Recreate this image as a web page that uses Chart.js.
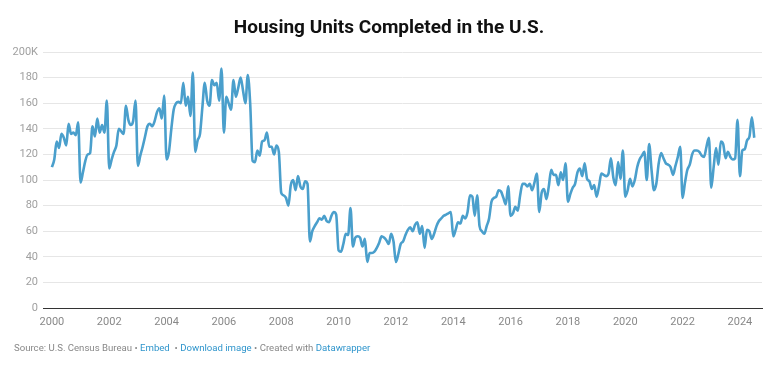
<!DOCTYPE html>
<html>
<head>
<meta charset="utf-8">
<script src="https://cdn.jsdelivr.net/npm/chart.js@4.4.1/dist/chart.umd.min.js"></script>
<style>
  body { margin: 0; background: #fff; font-family: Roboto, sans-serif; }
  #wrap { position: relative; width: 780px; height: 390px; }
  #title { position: absolute; top: 15px; left: 0; width: 778px; text-align: center; font-weight: 700; font-size: 19px; color: #111; }
  #foot { position: absolute; top: 342px; left: 14px; font-size: 9.6px; color: #888; white-space: nowrap; }
  #foot a { color: #2f95cc; text-decoration: none; }
  canvas { position: absolute; left: 0; top: 0; }
</style>
</head>
<body>
<div id="wrap">
  <canvas id="chart" width="780" height="390"></canvas>
  <div id="title">Housing Units Completed in the U.S.</div>
  <div id="foot">Source: U.S. Census Bureau • <a>Embed</a> &nbsp;• <a>Download image</a> • Created with <a>Datawrapper</a></div>
</div>
<script>
// Logements achevés par mois (milliers), janvier à décembre
const y2000 = [110, 116, 130, 125, 136, 133, 127, 144, 136, 137, 135, 145];
const y2001 = [98, 106, 115, 120, 121, 142, 134, 148, 137, 143, 137, 162];
const y2002 = [109, 116, 122, 127, 140, 138, 136, 158, 147, 143, 146, 162];
const y2003 = [111, 119, 126, 134, 142, 144, 142, 146, 153, 156, 148, 166];
const y2004 = [116, 122, 140, 155, 160, 161, 160, 176, 158, 165, 150, 184];
const y2005 = [122, 131, 136, 157, 176, 162, 158, 178, 174, 176, 162, 187];
const y2006 = [137, 165, 160, 155, 178, 165, 172, 180, 170, 160, 182, 160];
const y2007 = [115, 114, 123, 119, 130, 131, 137, 126, 126, 120, 127, 122];
const y2008 = [90, 88, 86, 80, 96, 100, 92, 103, 95, 93, 99, 97];
const y2009 = [52, 60, 64, 67, 70, 69, 72, 68, 67, 72, 75, 73];
const y2010 = [45, 44, 50, 58, 57, 78, 48, 55, 56, 55, 48, 54];
const y2011 = [36, 43, 43, 44, 47, 51, 56, 55, 53, 50, 58, 52];
const y2012 = [36, 42, 50, 52, 57, 61, 63, 60, 65, 67, 58, 64];
const y2013 = [47, 61, 60, 54, 58, 64, 68, 70, 72, 73, 74, 75];
const y2014 = [56, 61, 67, 66, 72, 70, 75, 88, 87, 72, 88, 64];
const y2015 = [60, 58, 64, 70, 83, 86, 87, 92, 91, 86, 81, 95];
const y2016 = [72, 74, 79, 76, 88, 97, 97, 95, 97, 92, 98, 105];
const y2017 = [75, 90, 93, 85, 95, 108, 104, 104, 96, 106, 100, 113];
const y2018 = [83, 89, 94, 97, 106, 109, 103, 113, 101, 99, 93, 96];
const y2019 = [87, 95, 105, 104, 103, 105, 117, 102, 96, 114, 101, 123];
const y2020 = [87, 92, 101, 95, 100, 110, 116, 119, 122, 100, 128, 108];
const y2021 = [92, 97, 113, 121, 117, 113, 112, 110, 104, 111, 118, 126];
const y2022 = [86, 98, 108, 112, 120, 123, 123, 122, 119, 118, 126, 133];
const y2023 = [94, 110, 125, 112, 130, 128, 117, 122, 118, 116, 117, 147];
const y2024 = [103, 123, 124, 131, 134, 149, 133];

const xTicks = [2000, 2002, 2004, 2006, 2008, 2010, 2012, 2014, 2016, 2018, 2020, 2022, 2024];
const yTicks = [0, 20, 40, 60, 80, 100, 120, 140, 160, 180, 200];

// Assembler la série mensuelle
const allYears = [y2000, y2001, y2002, y2003, y2004, y2005, y2006, y2007, y2008, y2009, y2010, y2011, y2012,
  y2013, y2014, y2015, y2016, y2017, y2018, y2019, y2020, y2021, y2022, y2023, y2024];
const points = [];
allYears.forEach((vals, yi) => {
  vals.forEach((v, mi) => points.push({ x: 2000 + yi + mi / 12, y: v }));
});

const font = { family: 'Roboto', size: 11 };

new Chart(document.getElementById('chart').getContext('2d'), {
  type: 'line',
  data: {
    datasets: [{
      data: points,
      borderColor: '#4a9fcc',
      borderWidth: 2.6,
      pointRadius: 0,
      cubicInterpolationMode: 'monotone',
      fill: false
    }]
  },
  options: {
    responsive: false,
    animation: false,
    layout: { padding: { top: 52, right: 18, bottom: 52, left: 0 } },
    plugins: { legend: { display: false }, tooltip: { enabled: false } },
    scales: {
      x: {
        type: 'linear',
        min: 1999.69,
        max: 2024.77,
        afterBuildTicks: s => { s.ticks = xTicks.map(v => ({ value: v })); },
        afterFit: s => { s.height = 30; },
        grid: { display: false, drawTicks: false },
        border: { display: true, color: '#333', width: 1 },
        ticks: { color: '#888', font, padding: 8, maxRotation: 0, autoSkip: false, callback: v => String(v) }
      },
      y: {
        min: 0,
        max: 200,
        afterBuildTicks: s => { s.ticks = yTicks.map(v => ({ value: v })); },
        afterFit: s => { s.width = 43; },
        grid: { drawTicks: false, color: c => c.tick && c.tick.value === 0 ? '#333' : '#e6e6e6' },
        border: { display: false },
        ticks: { color: '#a0a0a0', font, padding: 5, callback: v => v === 200 ? '200K' : v }
      }
    }
  }
});
</script>
</body>
</html>
